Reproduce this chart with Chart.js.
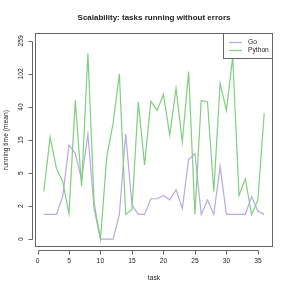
<!DOCTYPE html>
<html>
<head>
<meta charset="utf-8">
<script src="https://cdn.jsdelivr.net/npm/chart.js@4.4.1/dist/chart.umd.min.js"></script>
<style>
  html, body { margin: 0; padding: 0; background: #fff; }
</style>
</head>
<body>
<canvas id="scalChart" width="291" height="291"></canvas>
<script>
// task ids on the x axis
const tasks = [1, 2, 3, 4, 5, 6, 7, 8, 9, 10, 11, 12, 13, 14, 15, 16, 17, 18,
               19, 20, 21, 22, 23, 24, 25, 26, 27, 28, 29, 30, 31, 32, 33, 34, 35, 36];

// mean running time per task
const goTimes = [1, 1, 1, 2.3, 13, 10, 4.3, 18, 1.3, 0, 0, 0, 1, 18, 1.6, 1, 1, 2.1,
                 2.1, 2.4, 2, 3, 1.35, 8.4, 10, 1, 2, 1, 6.7, 1, 1, 1, 1, 2.3, 1.2, 1];
const pythonTimes = [2.8, 16.5, 6.3, 4, 1.05, 48, 3.4, 182, 1.7, 0, 9.1, 24.5, 102, 1, 1.3, 46, 7, 47,
                     36, 57, 17.5, 68, 14.3, 109, 1, 48, 46, 2.8, 78, 36, 165, 2.4, 4.4, 1, 2, 33];

const xTickValues = [0, 5, 10, 15, 20, 25, 30, 35];
const yTickLabels = [0, 2, 5, 15, 40, 102, 259];

const chartTitle = 'Scalability: tasks running without errors';

const FONT = "'Liberation Sans', Arial, sans-serif";
const TEXT = '#222';

// y is drawn on a log(1 + t) scale, ticks evenly spaced up to the top label
const yTop = Math.log1p(yTickLabels[yTickLabels.length - 1]);
const yStep = yTop / (yTickLabels.length - 1);

const toPoints = vals => vals.map((v, i) => ({ x: tasks[i], y: Math.log1p(v) }));

// R style box + detached axis lines, title centred over the plot region
const rAxes = {
  id: 'rAxes',
  afterDraw(chart) {
    const { ctx, chartArea: a, scales: { x, y } } = chart;
    ctx.save();
    ctx.strokeStyle = '#666';
    ctx.lineWidth = 1;
    ctx.strokeRect(a.left + 0.5, a.top + 0.5, a.right - a.left - 1, a.bottom - a.top - 1);

    ctx.beginPath();
    const xs = x.ticks.map(t => Math.round(x.getPixelForValue(t.value)) + 0.5);
    const yb = a.bottom + 3.5;
    ctx.moveTo(xs[0], yb);
    ctx.lineTo(xs[xs.length - 1], yb);
    xs.forEach(px => { ctx.moveTo(px, yb); ctx.lineTo(px, yb + 4); });

    const ys = y.ticks.map(t => Math.round(y.getPixelForValue(t.value)) + 0.5);
    const xl = a.left - 2.5;
    ctx.moveTo(xl, ys[0]);
    ctx.lineTo(xl, ys[ys.length - 1]);
    ys.forEach(py => { ctx.moveTo(xl, py); ctx.lineTo(xl - 4, py); });
    ctx.stroke();

    ctx.fillStyle = TEXT;
    ctx.font = 'bold 8px ' + FONT;
    ctx.textAlign = 'center';
    ctx.textBaseline = 'middle';
    ctx.fillText(chartTitle, (a.left + a.right) / 2, 17.5);
    ctx.restore();
  }
};

// legend box in the top right corner of the plot
const rLegend = {
  id: 'rLegend',
  afterDatasetsDraw(chart) {
    const { ctx, chartArea: a } = chart;
    const w = 50, h = 26;
    const lx = a.right - w, ly = a.top;
    ctx.save();
    ctx.fillStyle = '#fff';
    ctx.fillRect(lx, ly, w, h);
    ctx.strokeStyle = '#666';
    ctx.lineWidth = 1;
    ctx.strokeRect(lx + 0.5, ly + 0.5, w - 1, h - 1);
    ctx.font = '6.7px ' + FONT;
    ctx.textBaseline = 'middle';
    ctx.fillStyle = TEXT;
    chart.data.datasets.forEach((ds, i) => {
      const yy = ly + 9.5 + i * 8;
      ctx.strokeStyle = ds.borderColor;
      ctx.lineWidth = 1.2;
      ctx.beginPath();
      ctx.moveTo(lx + 6, yy);
      ctx.lineTo(lx + 19, yy);
      ctx.stroke();
      ctx.fillText(ds.label, lx + 25, yy);
    });
    ctx.restore();
  }
};

new Chart('scalChart', {
  type: 'line',
  data: {
    datasets: [
      { label: 'Go', data: toPoints(goTimes), borderColor: '#bba8dd', borderWidth: 1.2, order: 1 },
      { label: 'Python', data: toPoints(pythonTimes), borderColor: '#7fcf7f', borderWidth: 1.2, order: 0 }
    ]
  },
  options: {
    responsive: false,
    animation: false,
    devicePixelRatio: 1,
    layout: { padding: { left: 0, right: 18, top: 33, bottom: 0 } },
    elements: { point: { radius: 0 }, line: { tension: 0 } },
    plugins: {
      legend: { display: false },
      tooltip: { enabled: false },
      title: { display: false }
    },
    scales: {
      x: {
        type: 'linear',
        min: -0.4,
        max: 37.4,
        grid: { display: false },
        border: { display: false },
        afterBuildTicks: s => { s.ticks = xTickValues.map(v => ({ value: v })); },
        afterFit: s => { s.height = 44; },
        ticks: { color: TEXT, font: { family: FONT, size: 6.7 }, padding: 2, autoSkip: false, maxRotation: 0 },
        title: { display: true, text: 'task', color: TEXT, font: { family: FONT, size: 6.7 }, padding: { top: 0, bottom: 9.3 } }
      },
      y: {
        type: 'linear',
        min: -0.04 * yTop,
        max: 1.04 * yTop,
        grid: { display: false },
        border: { display: false },
        afterBuildTicks: s => { s.ticks = yTickLabels.map((l, k) => ({ value: k * yStep })); },
        afterFit: s => { s.width = 35; },
        ticks: {
          color: TEXT,
          font: { family: FONT, size: 6.7 },
          padding: 0,
          autoSkip: false,
          minRotation: 90,
          maxRotation: 90,
          crossAlign: 'center',
          callback: (v, i) => yTickLabels[i]
        },
        title: { display: true, text: 'running time (mean)', color: TEXT, font: { family: FONT, size: 6.7 }, padding: { top: 2.5, bottom: 0 } }
      }
    }
  },
  plugins: [rAxes, rLegend]
});
</script>
</body>
</html>
